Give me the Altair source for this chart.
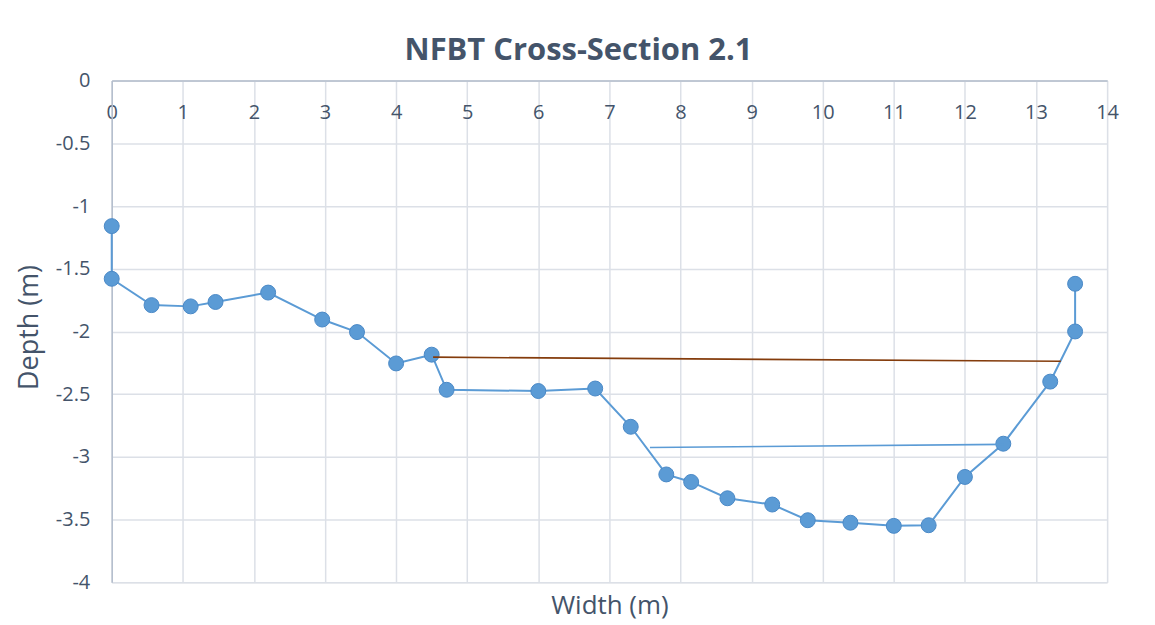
import altair as alt
import pandas as pd

width_m = [0, 0, 0.56, 1.11, 1.46, 2.2, 2.96, 3.45, 4.0, 4.5, 4.71, 6.0, 6.8, 7.3,
           7.8, 8.15, 8.66, 9.29, 9.79, 10.39, 11.0, 11.49, 12.0, 12.54, 13.2, 13.55, 13.55]
depth_m = [-1.16, -1.58, -1.79, -1.80, -1.765, -1.69, -1.905, -2.005, -2.255, -2.185,
           -2.465, -2.475, -2.455, -2.76, -3.14, -3.2, -3.33, -3.38, -3.505, -3.525,
           -3.55, -3.545, -3.16, -2.895, -2.40, -2.0, -1.62]

# Water surface line (brown)
water_x = [4.52, 13.35]
water_y = [-2.205, -2.238]

# Lower thin line (blue)
low_x = [7.57, 12.54]
low_y = [-2.925, -2.90]

x_ticks = list(range(0, 15))
y_ticks = [0, -0.5, -1, -1.5, -2, -2.5, -3, -3.5, -4]

FONT = "Open Sans"
TXT = "#44546A"
GRID = "#DCE0E7"
DOMAIN = "#B4BECD"
BLUE = "#5B9BD5"
BROWN = "#843C0C"

W, H = 998, 503

profile = pd.DataFrame({"x": width_m, "y": depth_m, "i": list(range(len(width_m)))})
water = pd.DataFrame({"x": water_x, "y": water_y, "i": [0, 1]})
low = pd.DataFrame({"x": low_x, "y": low_y, "i": [0, 1]})

x_enc = alt.X(
    "x:Q",
    scale=alt.Scale(domain=[0, 14], nice=False, zero=False),
    axis=alt.Axis(
        orient="top", values=x_ticks, ticks=False, labelPadding=-38,
        labelBaseline="alphabetic", labelFlush=False, labelOverlap=False, labelBound=False,
        labelFont=FONT, labelFontSize=20, labelColor=TXT,
        domain=True, domainColor=DOMAIN, domainWidth=1.5,
        grid=True, gridColor=GRID, gridWidth=1.5,
        title="Width (m)", titleFont=FONT, titleFontSize=26, titleFontWeight="normal",
        titleColor=TXT, titleX=W / 2, titleY=526, titleBaseline="middle", titleAlign="center",
    ),
)
y_enc = alt.Y(
    "y:Q",
    scale=alt.Scale(domain=[-4, 0], nice=False, zero=False),
    axis=alt.Axis(
        orient="left", values=y_ticks, ticks=False, labelPadding=22,
        labelExpr="'' + datum.value", labelFlush=False, labelOverlap=False, labelBound=False,
        labelFont=FONT, labelFontSize=20, labelColor=TXT,
        domain=True, domainColor=DOMAIN, domainWidth=1.5,
        grid=True, gridColor=GRID, gridWidth=1.5,
        title="Depth (m)", titleFont=FONT, titleFontSize=27, titleFontWeight="normal",
        titleColor=TXT, titleX=-82, titleY=247, titleAngle=270,
        titleBaseline="middle", titleAlign="center",
    ),
)

line = alt.Chart(profile).mark_line(color=BLUE, strokeWidth=2).encode(
    x=x_enc, y=y_enc, order="i:Q")
pts = alt.Chart(profile).mark_circle(size=225, color=BLUE, opacity=1,
                                      stroke="#4A89C6", strokeWidth=1).encode(x=x_enc, y=y_enc)
wline = alt.Chart(water).mark_line(color=BROWN, strokeWidth=1.6).encode(
    x=x_enc, y=y_enc, order="i:Q")
lline = alt.Chart(low).mark_line(color=BLUE, strokeWidth=1.6).encode(
    x=x_enc, y=y_enc, order="i:Q")

chart = alt.layer(line, pts, wline, lline).properties(
    width=W, height=H,
    title=alt.TitleParams(
        "NFBT Cross-Section 2.1", font=FONT, fontSize=31, fontWeight="bold",
        color=TXT, anchor="middle", frame="group", offset=4, dx=-31,
    ),
    autosize=alt.AutoSizeParams(type="none"),
    padding={"left": 104, "top": 72, "right": 40, "bottom": 40},
).configure_view(stroke=None).configure(background="white")

chart.save("out.html", embed_options={"renderer": "svg", "actions": False})
